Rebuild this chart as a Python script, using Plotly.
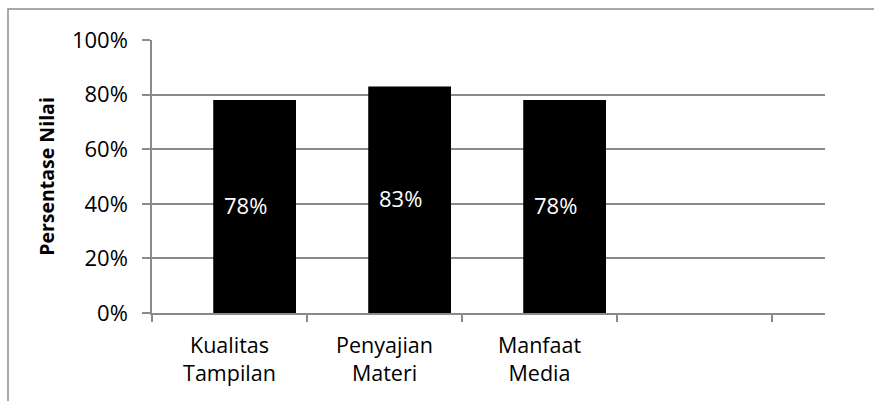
import plotly.graph_objects as go

categories = ["Kualitas<br>Tampilan", "Penyajian<br>Materi", "Manfaat<br>Media"]
extra_slot = [" "]
values = [0.78, 0.83, 0.78]
y_title = "Persentase Nilai"

FONT = "Open Sans"
GRID = "#8a8a8a"

fig = go.Figure()
fig.add_trace(go.Bar(
    x=categories, y=values,
    width=0.534, offset=-0.105,
    marker=dict(color="black", line=dict(width=0)),
    hoverinfo="skip",
))

for c, v in zip(categories, values):
    fig.add_annotation(x=c, y=v / 2, xref="x", yref="y", text=f"{v:.0%}",
                       showarrow=False, xshift=15.5, yshift=2,
                       font=dict(family=FONT, size=22, color="white"))

# outer frame of the chart area
fig.add_shape(type="rect", xref="paper", yref="paper",
              x0=(8 - 152) / 673, x1=1.2, y0=-0.5, y1=1 + (40 - 9) / 273.3,
              line=dict(color="#8c8c8c", width=1.5), fillcolor="rgba(0,0,0,0)",
              layer="below")

fig.update_layout(
    width=874, height=401,
    margin=dict(l=152, r=49, t=40, b=88),
    paper_bgcolor="white", plot_bgcolor="white",
    showlegend=False,
    font=dict(family=FONT, size=22, color="black"),
    xaxis=dict(
        type="category",
        categoryorder="array", categoryarray=categories + extra_slot,
        range=[-0.5, -0.5 + 673 / 155],
        tickson="boundaries", ticks="outside", ticklen=7, tickcolor=GRID, tickwidth=1.5,
        showline=True, linecolor=GRID, linewidth=1.5,
        showgrid=False, zeroline=False,
        tickfont=dict(family=FONT, size=21.5, color="black"),
        ticklabelstandoff=12,
    ),
    yaxis=dict(
        range=[0, 1], dtick=0.2, tick0=0, tickformat=".0%",
        ticks="outside", ticklen=8, tickcolor=GRID, tickwidth=1.5,
        showline=True, linecolor=GRID, linewidth=1.5,
        showgrid=True, gridcolor=GRID, gridwidth=1.5,
        zeroline=False,
        tickfont=dict(family=FONT, size=22, color="black"),
        ticklabelstandoff=10,
        title=dict(text=f"<b>{y_title}</b>", font=dict(family=FONT, size=19.5, color="black"),
                   standoff=12),
    ),
)

fig.write_html("out.html")
